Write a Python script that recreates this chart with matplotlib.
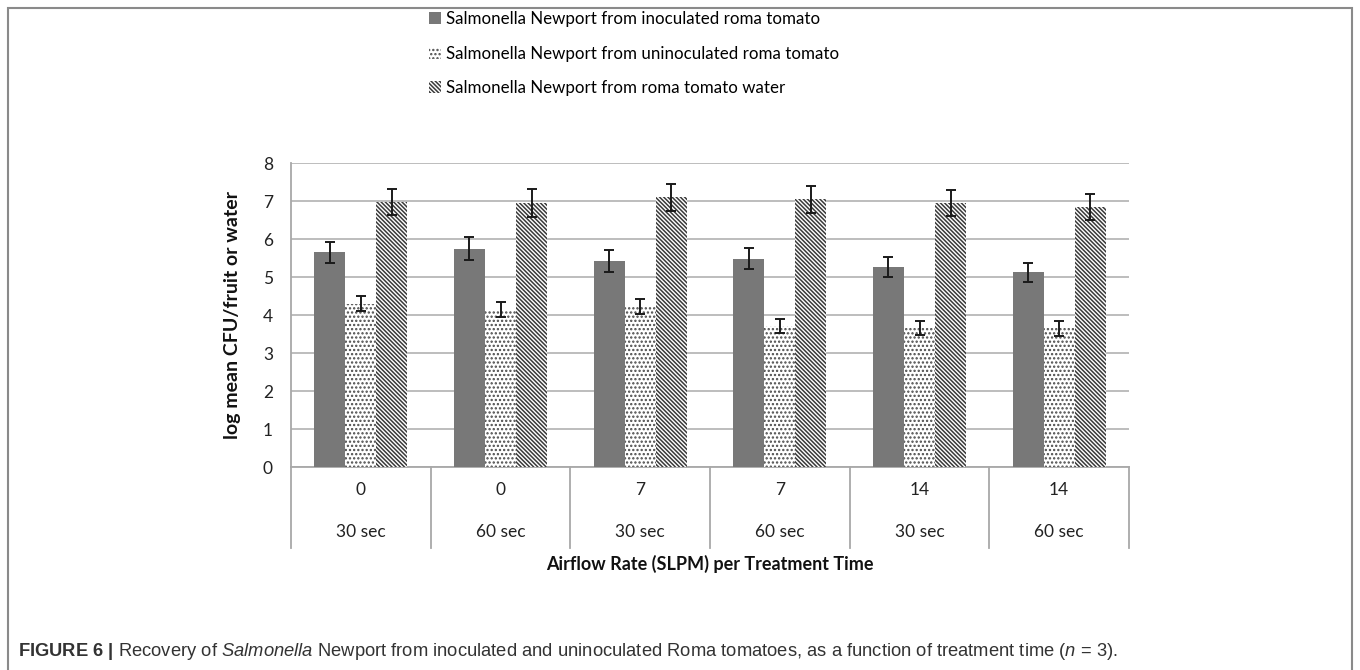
import matplotlib
matplotlib.use("Agg")
import matplotlib.pyplot as plt
import numpy as np
from matplotlib.patches import Patch, Rectangle

# log mean CFU per fruit / water, three sources x six treatments
airflow = ["0", "0", "7", "7", "14", "14"]
times = ["30 sec", "60 sec", "30 sec", "60 sec", "30 sec", "60 sec"]
series_names = [
    "Salmonella Newport from inoculated roma tomato",
    "Salmonella Newport from uninoculated roma tomato",
    "Salmonella Newport from roma tomato water",
]
inoculated = [5.65, 5.74, 5.42, 5.48, 5.27, 5.13]
inoculated_err = [0.28, 0.30, 0.28, 0.28, 0.26, 0.25]
uninoculated = [4.30, 4.14, 4.22, 3.71, 3.65, 3.65]
uninoculated_err = [0.20, 0.20, 0.20, 0.18, 0.18, 0.19]
water = [6.98, 6.95, 7.10, 7.04, 6.95, 6.84]
water_err = [0.34, 0.36, 0.36, 0.35, 0.35, 0.34]

W, H = 1360, 670
body_font = ["Lato", "DejaVu Sans"]
plt.rcParams["hatch.linewidth"] = 1.1
plt.rcParams["mathtext.fontset"] = "custom"
plt.rcParams["mathtext.rm"] = "Liberation Sans"
plt.rcParams["mathtext.it"] = "Liberation Sans:italic"
plt.rcParams["mathtext.bf"] = "Liberation Sans:bold"

# plot area in pixels: x 291..1129, y 163 (top) .. 467 (zero line)
x0, x1, ytop, ybot = 291, 1129, 163, 467
fig = plt.figure(figsize=(W / 100, H / 100), dpi=100)
ax = fig.add_axes([x0 / W, 1 - ybot / H, (x1 - x0) / W, (ybot - ytop) / H])
ax_h = ybot - ytop

x = np.arange(len(airflow))
bw = 1 / 4.5
styles = [
    dict(color="#787878", edgecolor="#787878", hatch=None),
    dict(color="white", edgecolor="#4a4a4a", hatch="...."),
    dict(color="white", edgecolor="#3a3a3a", hatch="\\\\\\\\\\\\\\\\"),
]
data = [(inoculated, inoculated_err), (uninoculated, uninoculated_err), (water, water_err)]
handles = []
for i, ((vals, errs), st) in enumerate(zip(data, styles)):
    ax.bar(x + (i - 1) * bw, vals, bw, color=st["color"], edgecolor=st["edgecolor"],
           hatch=st["hatch"], linewidth=0, zorder=2)
    ax.errorbar(x + (i - 1) * bw, vals, yerr=errs, fmt="none", ecolor="#1a1a1a",
                elinewidth=1.4, capsize=3.3, capthick=1.4, zorder=3)
    handles.append(Patch(facecolor=st["color"], edgecolor=st["edgecolor"],
                         hatch=st["hatch"], linewidth=0))

ax.set_xlim(-0.5, len(airflow) - 0.5)
ax.set_ylim(0, 8)
ax.set_yticks(range(0, 9))
ax.yaxis.grid(True, color="#b8b8b8", linewidth=1.3, zorder=0)
ax.set_axisbelow(True)
for s in ["top", "right", "bottom"]:
    ax.spines[s].set_visible(False)
ax.spines["left"].set_color("#a8a8a8")
ax.spines["left"].set_linewidth(1.3)
ax.tick_params(axis="y", length=0, pad=13, labelsize=12.5, labelcolor="#222222")
for lab in ax.get_yticklabels():
    lab.set_family(body_font)
ax.set_xticks([])
ax.set_ylabel("log mean CFU/fruit or water", fontsize=14, fontweight="bold",
              family=body_font, color="#111111")
ax.yaxis.set_label_coords(-(x0 - 241) / (x1 - x0), 0.5)

# two-row category axis with separators
tr = ax.get_xaxis_transform()
sep_bottom = -(548 - ybot) / ax_h
ax.plot([-0.5, len(airflow) - 0.5], [0, 0], transform=tr, color="#a8a8a8",
        linewidth=1.3, clip_on=False, zorder=1)
for b in np.arange(len(airflow) + 1) - 0.5:
    ax.plot([b, b], [0, sep_bottom], transform=tr, color="#a8a8a8",
            linewidth=1.3, clip_on=False)
for xi, a, t in zip(x, airflow, times):
    ax.text(xi, -(490 - ybot) / ax_h, a, transform=tr, ha="center", va="center",
            fontsize=12.5, family=body_font, color="#222222")
    ax.text(xi, -(532 - ybot) / ax_h, t, transform=tr, ha="center", va="center",
            fontsize=12.5, family=body_font, color="#222222")
ax.text(0.5, -(564 - ybot) / ax_h, "Airflow Rate (SLPM) per Treatment Time",
        transform=ax.transAxes, ha="center", va="center", fontsize=13,
        fontweight="bold", family=body_font, color="#111111")

fig.legend(handles, series_names, loc="upper left",
           bbox_to_anchor=(429 / W, 1 - 11 / H), frameon=False,
           prop={"family": body_font, "size": 12.2}, handlelength=0.7,
           handleheight=0.7, handletextpad=0.3, labelspacing=1.1,
           borderpad=0, borderaxespad=0)

# outer panel frame, open at the bottom
fig.patches.append(Rectangle((8 / W, -0.05), (1352 - 8) / W, 1.05 - 8 / H,
                             transform=fig.transFigure, fill=False,
                             edgecolor="#8a8a8a", linewidth=1.5))

fig.text(18 / W, 1 - 652 / H,
         r"$\bf{FIGURE\ 6\ |}$ Recovery of $\it{Salmonella}$ Newport from inoculated and "
         r"uninoculated Roma tomatoes, as a function of treatment time ($\it{n}$ = 3).",
         ha="left", va="center", fontsize=13.2, family="Liberation Sans", color="#333333")

fig.savefig("out.png", dpi=100)
